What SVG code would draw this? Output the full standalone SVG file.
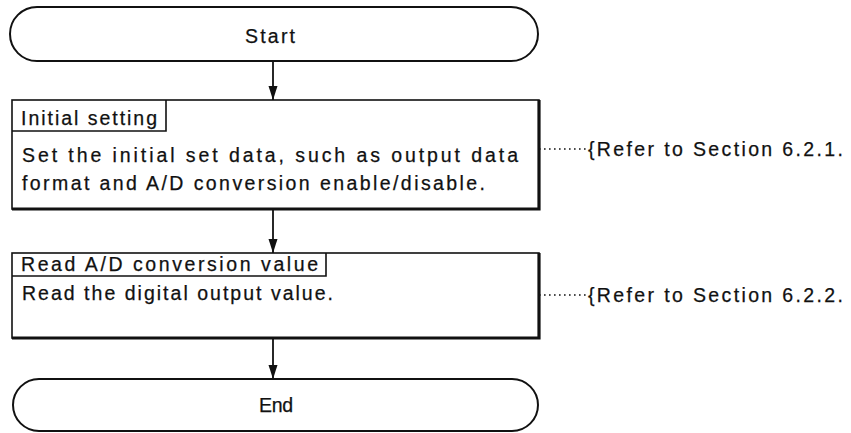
<svg xmlns="http://www.w3.org/2000/svg" width="851" height="433" viewBox="0 0 851 433">
<style>
text{font-family:"Liberation Sans",Arial,sans-serif;font-size:19.5px;fill:#111;stroke:#111;stroke-width:0.25}
.thin{fill:none;stroke:#111;stroke-width:1.6}
.thick{fill:none;stroke:#111;stroke-width:3.2}
.term{fill:#fff;stroke:#111;stroke-width:2}
.conn{stroke:#111;stroke-width:1.8;fill:none}
.dot{stroke:#111;stroke-width:1.6;stroke-dasharray:1.6 3.4;fill:none}
</style>
<defs>
<marker id="arrow" markerWidth="14" markerHeight="10" refX="14" refY="5" orient="auto" markerUnits="userSpaceOnUse">
<path d="M0,0.5 L14,5 L0,9.5 Z" fill="#111"/>
</marker>
</defs>
<rect width="851" height="433" fill="#fff"/>
<g id="connectors">
<line class="conn" x1="273" y1="61" x2="273" y2="100" marker-end="url(#arrow)"/>
<line class="conn" x1="273" y1="209" x2="273" y2="253" marker-end="url(#arrow)"/>
<line class="conn" x1="273" y1="338" x2="273" y2="379" marker-end="url(#arrow)"/>
<line class="dot" x1="539" y1="149" x2="588" y2="149"/>
<line class="dot" x1="539" y1="295" x2="588" y2="295"/>
</g>
<g id="start">
<rect class="term" x="10" y="7" width="528" height="54" rx="27" ry="27"/>
<text x="270" y="43" text-anchor="middle" textLength="50">Start</text>
</g>
<g id="initial-setting">
<rect x="12" y="100" width="527" height="109" fill="#fff" class="thin"/>
<polyline class="thick" points="539,100 539,209 12,209"/>
<polyline class="thin" points="12,131 166,131 166,100"/>
<text x="21" y="125" textLength="136">Initial setting</text>
<text x="22" y="162" textLength="496">Set the initial set data, such as output data</text>
<text x="22" y="190" textLength="463">format and A/D conversion enable/disable.</text>
</g>
<g id="read-ad">
<rect x="12" y="253" width="527" height="85" fill="#fff" class="thin"/>
<polyline class="thick" points="539,253 539,338 12,338"/>
<polyline class="thin" points="12,276 326,276 326,253"/>
<text x="21" y="271" textLength="297">Read A/D conversion value</text>
<text x="22" y="300" textLength="311">Read the digital output value.</text>
</g>
<g id="end">
<rect class="term" x="13" y="379" width="525" height="52" rx="26" ry="26"/>
<text x="276" y="412" text-anchor="middle" textLength="34">End</text>
</g>
<g id="ref1">
<text x="588" y="156" textLength="255">{Refer to Section 6.2.1.</text>
</g>
<g id="ref2">
<text x="588" y="302" textLength="255">{Refer to Section 6.2.2.</text>
</g>
</svg>
